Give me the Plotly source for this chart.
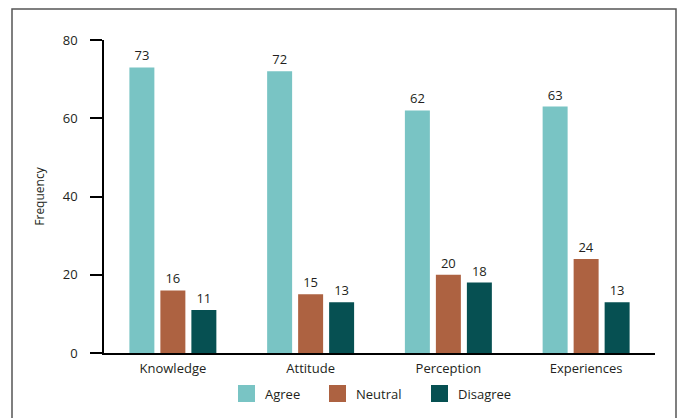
import plotly.graph_objects as go

categories = ["Knowledge", "Attitude", "Perception", "Experiences"]
agree = [73, 72, 62, 63]
neutral = [16, 15, 20, 24]
disagree = [11, 13, 18, 13]
series_names = ["Agree", "Neutral", "Disagree"]
colors = ["#79C4C4", "#AD6241", "#065052"]

font_family = "Open Sans, Noto Sans, sans-serif"
text_color = "#231F20"

L, R, T, B = 104, 25, 40, 65
PW, PH = 680 - L - R, 418 - T - B


def px_x(px):
    return (px - L) / PW


def px_y(py):
    return (418 - B - py) / PH


fig = go.Figure()
for name, vals, col in zip(series_names, [agree, neutral, disagree], colors):
    fig.add_trace(go.Bar(
        x=categories, y=vals, name=name,
        marker=dict(color=col, line=dict(width=0)),
        text=[str(v) for v in vals], textposition="outside",
        textfont=dict(size=13, color=text_color, family=font_family),
        cliponaxis=False, showlegend=False,
    ))

fig.update_layout(
    width=680, height=418,
    margin=dict(l=L, r=R, t=T, b=B),
    paper_bgcolor="white", plot_bgcolor="white",
    barmode="group", bargap=0.325, bargroupgap=0.194,
    font=dict(family=font_family, size=13, color=text_color),
    showlegend=False,
    xaxis=dict(showline=True, linecolor="black", linewidth=1.5, ticks="",
               showgrid=False, ticklabelstandoff=3, tickfont=dict(size=13)),
    yaxis=dict(range=[0, 80], tickvals=[0, 20, 40, 60, 80], showline=True,
               linecolor="black", linewidth=1.5, ticks="outside", ticklen=12,
               tickwidth=1.5, tickcolor="black", showgrid=False, zeroline=False,
               ticklabelstandoff=10, tickfont=dict(size=13),
               title=dict(text="Frequency", font=dict(size=12), standoff=16)),
)

# manual legend (large square swatches like the reference)
legend_sq_x = [238, 329, 431]
for name, col, sx in zip(series_names, colors, legend_sq_x):
    fig.add_shape(type="rect", xref="paper", yref="paper",
                  x0=px_x(sx), x1=px_x(sx + 17), y0=px_y(402), y1=px_y(385),
                  line=dict(width=0), fillcolor=col)
    fig.add_annotation(xref="paper", yref="paper", x=px_x(sx + 25), y=px_y(393.5),
                       text=name, showarrow=False, xanchor="left", yanchor="middle",
                       font=dict(size=13, color=text_color, family=font_family))

# frame around the figure
fig.add_shape(type="rect", xref="paper", yref="paper",
              x0=px_x(12), x1=px_x(676), y0=px_y(430), y1=px_y(9),
              line=dict(color="#555555", width=1.5), fillcolor="rgba(0,0,0,0)",
              layer="below")

fig.write_html("out.html")
